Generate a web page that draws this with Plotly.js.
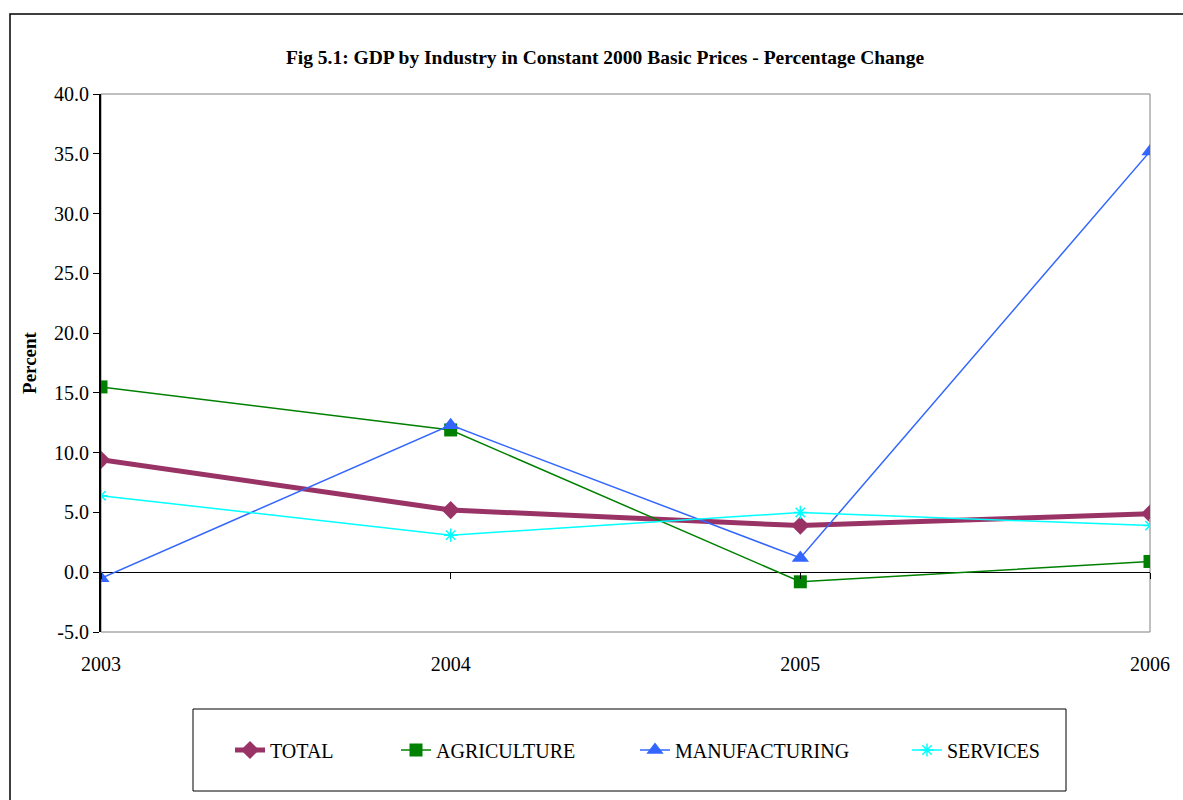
<!DOCTYPE html>
<html>
<head>
<meta charset="utf-8">
<script src="https://cdn.plot.ly/plotly-3.0.1.min.js"></script>
<style>
html,body{margin:0;padding:0;background:#fff;}
#chart{width:1183px;height:800px;}
</style>
</head>
<body>
<div id="chart"></div>
<script>
const years = [2003, 2004, 2005, 2006];
const yearLabels = ["2003", "2004", "2005", "2006"];
const total = [9.4, 5.2, 3.9, 4.9];
const agriculture = [15.5, 11.9, -0.8, 0.9];
const manufacturing = [-0.5, 12.3, 1.2, 35.2];
const services = [6.4, 3.1, 5.0, 3.9];
const yTicks = [-5, 0, 5, 10, 15, 20, 25, 30, 35, 40];
const yTickLabels = ["-5.0", "0.0", "5.0", "10.0", "15.0", "20.0", "25.0", "30.0", "35.0", "40.0"];

const FONT = "Liberation Serif, Times New Roman, serif";

// plot area in pixels: left 101, right 1150, top 94, bottom 632
const L = 101, R = 1150, T = 94, B = 632;
const px = x => (x - L) / (R - L);
const py = y => (B - y) / (B - T);

const traces = [
  {name: "TOTAL", x: years, y: total, mode: "lines+markers", legend: "legend",
   line: {color: "#993366", width: 5}, marker: {symbol: "diamond", size: 14, color: "#993366"}},
  {name: "AGRICULTURE", x: years, y: agriculture, mode: "lines+markers", legend: "legend2",
   line: {color: "#008000", width: 1.5}, marker: {symbol: "square", size: 13, color: "#008000"}},
  {name: "MANUFACTURING", x: years, y: manufacturing, mode: "lines+markers", legend: "legend3",
   line: {color: "#3366FF", width: 1.5}, marker: {symbol: "triangle-up", size: 15, color: "#3366FF"}},
  {name: "SERVICES", x: years, y: services, mode: "lines+markers", legend: "legend4",
   line: {color: "#00FFFF", width: 1.5}, marker: {symbol: "asterisk-open", size: 11, color: "#00FFFF", line: {color: "#00FFFF", width: 1.5}}}
];

const legY = py(750);
const legCommon = {orientation: "h", yref: "paper", yanchor: "middle", y: legY, xanchor: "left",
  bgcolor: "rgba(0,0,0,0)", borderwidth: 0, font: {family: FONT, size: 20, color: "#000"}};

const layout = {
  width: 1183, height: 800,
  margin: {l: L, r: 1183 - R, t: T, b: 800 - B, pad: 0},
  paper_bgcolor: "#fff", plot_bgcolor: "#fff",
  font: {family: FONT, size: 20, color: "#000"},
  title: {text: "<b>Fig 5.1: GDP by Industry in Constant 2000 Basic Prices - Percentage Change</b>",
    font: {family: FONT, size: 19.5, color: "#000"},
    xref: "container", x: 605 / 1183, xanchor: "center",
    yref: "container", y: 1 - 57 / 800, yanchor: "middle"},
  xaxis: {range: [2003, 2006], tickvals: years, ticktext: yearLabels, ticks: "",
    ticklabelstandoff: 18, showgrid: false, zeroline: false, showline: false,
    tickfont: {family: FONT, size: 20, color: "#000"}, fixedrange: true},
  xaxis2: {range: [2003, 2006], overlaying: "x", anchor: "free", position: py(572.2), side: "bottom",
    tickvals: years, ticks: "outside", ticklen: 6, tickwidth: 1, tickcolor: "#000",
    showticklabels: false, showgrid: false, zeroline: false, showline: false},
  yaxis: {range: [-5, 40], tickvals: yTicks, ticktext: yTickLabels, ticks: "outside", ticklen: 6,
    tickcolor: "#000", tickwidth: 1, showgrid: false, showline: true, linecolor: "#000", linewidth: 2,
    zeroline: true, zerolinecolor: "#000", zerolinewidth: 1,
    tickfont: {family: FONT, size: 20, color: "#000"},
    title: {text: "<b>Percent</b>", font: {family: FONT, size: 19, color: "#000"}, standoff: 12}},
  showlegend: true,
  legend: Object.assign({}, legCommon, {x: px(230)}),
  legend2: Object.assign({}, legCommon, {x: px(396)}),
  legend3: Object.assign({}, legCommon, {x: px(635)}),
  legend4: Object.assign({}, legCommon, {x: px(907)}),
  shapes: [
    {type: "rect", xref: "paper", yref: "paper", x0: 0, x1: 1, y0: 0, y1: 1,
     line: {color: "#808080", width: 1}, layer: "below"},
    {type: "rect", xref: "paper", yref: "paper", x0: px(193), x1: px(1066), y0: py(709), y1: py(791),
     line: {color: "#000", width: 1}},
    {type: "rect", xref: "paper", yref: "paper", x0: px(10), x1: px(1300), y0: py(900), y1: py(14),
     line: {color: "#000", width: 1.5}}
  ]
};

// invisible trace on xaxis2 so the tick marks along the zero line are drawn
traces.push({x: years, y: total, xaxis: "x2", yaxis: "y", mode: "none", showlegend: false, hoverinfo: "skip"});

Plotly.newPlot("chart", traces, layout, {displayModeBar: false, staticPlot: true});
</script>
</body>
</html>
